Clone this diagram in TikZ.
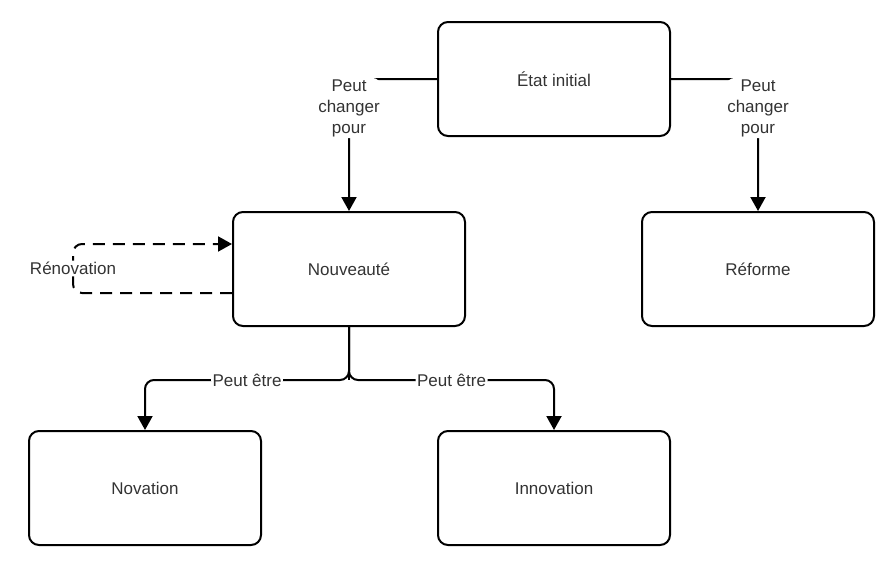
\documentclass[tikz,border=0pt]{standalone}
\usepackage{fontspec}
\setmainfont{Liberation Sans}
\usetikzlibrary{arrows.meta}
\begin{document}
\begin{tikzpicture}[x=1pt,y=-1pt,
  box/.style={draw, line width=2pt, rounded corners=10pt, minimum width=232pt, minimum height=114pt, inner sep=0pt, fill=white, text=black!80, font=\fontsize{17}{20}\selectfont},
  conn/.style={line width=2pt, rounded corners=9pt, -{Triangle[width=15pt,length=14pt]}},
  lbl/.style={fill=white, inner sep=1.5pt, text=black!80, align=center, font=\fontsize{17}{21}\selectfont}]
\fill[white] (0,0) rectangle (883,570);
\useasboundingbox (0,0) rectangle (883,570);
\node[box] (init) at (554,79) {État initial};
\node[box] (nouv) at (349,269) {Nouveauté};
\node[box] (ref) at (758,269) {Réforme};
\node[box] (nov) at (145,488) {Novation};
\node[box] (inn) at (554,488) {Innovation};
\coordinate (split) at (349,380);
\draw[conn] (init.west) -| node[lbl,pos=0.61]{Peut\\changer\\pour} (nouv.north);
\draw[conn] (init.east) -| node[lbl,pos=0.61]{Peut\\changer\\pour} (ref.north);
\draw[conn,-] (nouv.south) -- (split);
\draw[conn] (nouv.south) -- (split) -| node[lbl,pos=0.25]{Peut être} (nov.north);
\draw[conn] (nouv.south) -- (split) -| node[lbl,pos=0.25]{Peut être} (inn.north);
\draw[conn,dash pattern=on 12pt off 8pt] ([yshift=-24pt]nouv.west) -- ++(-159,0) -- node[lbl,midway]{Rénovation} ++(0,-49) -- ([yshift=25pt]nouv.west);
\end{tikzpicture}
\end{document}
